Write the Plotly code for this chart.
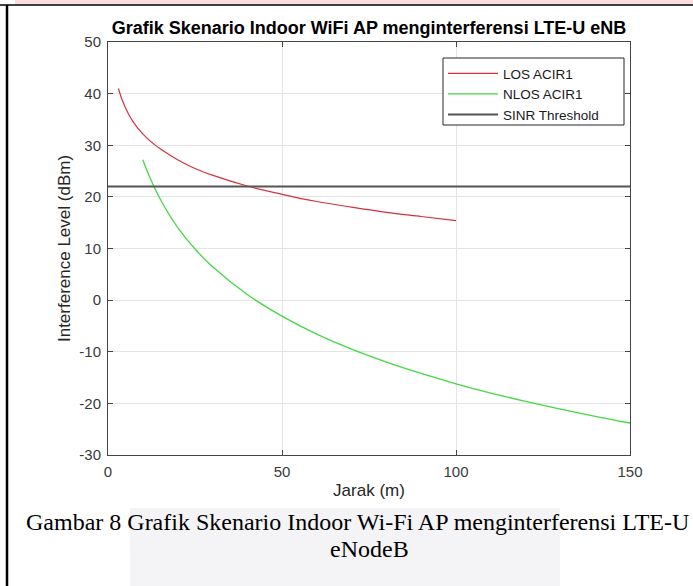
import plotly.graph_objects as go

# ---- data ----
los_x = [3, 4, 5, 6, 8, 10, 12, 15, 20, 25, 30, 40, 50, 60, 70, 80, 90, 100]
los_y = [41.0, 38.9, 37.3, 35.9, 33.8, 32.2, 30.9, 29.3, 27.2, 25.5, 24.2, 22.1,
         20.5, 19.1, 18.0, 17.0, 16.2, 15.4]

nlos_x = [10, 12, 15, 20, 25, 30, 40, 50, 60, 70, 80, 90, 100, 110, 120, 130, 140, 150]
nlos_y = [27.2, 23.8, 19.6, 14.1, 9.9, 6.5, 1.1, -3.1, -6.6, -9.5, -12.0, -14.2,
          -16.2, -18.0, -19.6, -21.1, -22.5, -23.8]

sinr_x = [0, 150]
sinr_y = [22, 22]

x_ticks = [0, 50, 100, 150]
x_tick_labels = ["0", "50", "100", "150"]
y_ticks = [-30, -20, -10, 0, 10, 20, 30, 40, 50]
y_tick_labels = ["-30", "-20", "-10", "0", "10", "20", "30", "40", "50"]

W, H = 693, 586
L, R, T, B = 108, 630, 42, 455
SANS = "Liberation Sans, Arial, Helvetica"
SERIF = "Liberation Serif, Times New Roman"

fig = go.Figure()
fig.add_trace(go.Scatter(x=los_x, y=los_y, mode="lines", name="LOS ACIR1",
                         line=dict(color="#d6303f", width=1.2, shape="spline")))
fig.add_trace(go.Scatter(x=nlos_x, y=nlos_y, mode="lines", name="NLOS ACIR1",
                         line=dict(color="#44d844", width=1.3, shape="spline")))
fig.add_trace(go.Scatter(x=sinr_x, y=sinr_y, mode="lines", name="SINR Threshold",
                         line=dict(color="#555555", width=2)))

axis_common = dict(showline=True, linecolor="#454545", linewidth=1, mirror="ticks",
                   ticks="inside", ticklen=5, tickcolor="#454545",
                   showgrid=True, gridcolor="#e4e4e4", gridwidth=1, zeroline=False,
                   tickfont=dict(family=SANS, size=15, color="#3a3a3a"))

fig.update_xaxes(range=[0, 150], tickvals=x_ticks, ticktext=x_tick_labels,
                 ticklabelstandoff=3, **axis_common,
                 title=dict(text="Jarak (m)", standoff=5,
                            font=dict(family=SANS, size=17, color="#262626")))
fig.update_yaxes(range=[-30, 50], tickvals=y_ticks, ticktext=y_tick_labels,
                 ticklabelstandoff=3, **axis_common,
                 title=dict(text="Interference Level (dBm)", standoff=4,
                            font=dict(family=SANS, size=17, color="#262626")))

fig.update_layout(
    width=W, height=H,
    margin=dict(l=L, r=W - R, t=T, b=H - B, autoexpand=False),
    paper_bgcolor="white", plot_bgcolor="white",
    title=dict(text="<b>Grafik Skenario Indoor WiFi AP menginterferensi LTE-U eNB</b>",
               x=0.5, xref="paper", xanchor="center",
               y=1 - 28 / H, yref="container", yanchor="middle",
               font=dict(family=SANS, size=18, color="#000000")),
    legend=dict(x=(443 - L) / (R - L), y=(B - 58) / (B - T), xanchor="left", yanchor="top",
                borderwidth=0, bgcolor="rgba(0,0,0,0)",
                font=dict(family=SANS, size=13.5, color="#1a1a1a"),
                itemwidth=50, tracegroupgap=0),
    showlegend=True,
)


def px_x(v):
    return (v - L) / (R - L)


def px_y(v):
    return (B - v) / (B - T)


# legend frame (white box above the grid, entries drawn by the legend on top)
fig.add_shape(type="rect", xref="paper", yref="paper",
              x0=px_x(443), x1=px_x(624), y0=px_y(58), y1=px_y(125),
              line=dict(color="#262626", width=1), fillcolor="white", layer="above")

# document artefacts: top band, border, faint watermark
fig.add_shape(type="rect", xref="paper", yref="paper",
              x0=px_x(130), x1=px_x(560), y0=px_y(508), y1=px_y(H),
              line=dict(width=0), fillcolor="#f4f4f6", layer="below")
fig.add_shape(type="rect", xref="paper", yref="paper",
              x0=px_x(15), x1=px_x(W), y0=px_y(0), y1=px_y(4.5),
              line=dict(width=0), fillcolor="#fbdde0", layer="below")
fig.add_shape(type="line", xref="paper", yref="paper",
              x0=px_x(0), x1=px_x(W), y0=px_y(5), y1=px_y(5),
              line=dict(color="black", width=1.5))
fig.add_shape(type="line", xref="paper", yref="paper",
              x0=px_x(7), x1=px_x(7), y0=px_y(5), y1=px_y(H),
              line=dict(color="black", width=2.5))

fig.add_annotation(text="Gambar 8 Grafik Skenario Indoor Wi-Fi AP menginterferensi LTE-U",
                   xref="paper", yref="paper", x=px_x(357), y=px_y(522),
                   xanchor="center", yanchor="middle", showarrow=False,
                   font=dict(family=SERIF, size=24, color="black"))
fig.add_annotation(text="eNodeB",
                   xref="paper", yref="paper", x=px_x(369), y=px_y(549),
                   xanchor="center", yanchor="middle", showarrow=False,
                   font=dict(family=SERIF, size=24, color="black"))

fig.write_html("out.html", config={"displayModeBar": False},
               post_script="document.body.style.margin='0';")
